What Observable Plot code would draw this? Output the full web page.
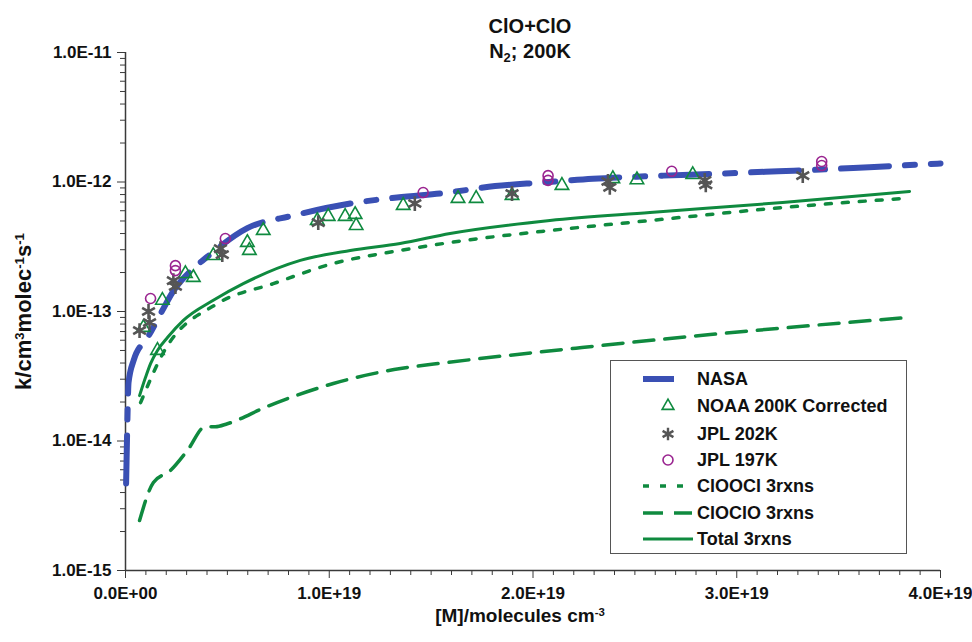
<!DOCTYPE html>
<html><head><meta charset="utf-8">
<script src="https://cdn.jsdelivr.net/npm/d3@7"></script>
<script src="https://cdn.jsdelivr.net/npm/@observablehq/plot@0.6"></script>
<style>
body{margin:0;background:#fff;}
#wrap{position:relative;width:972px;height:642px;font-family:"Liberation Sans",Arial,sans-serif;font-weight:bold;color:#111;}
#chart{position:absolute;left:0;top:0;}
#chart svg text{font-size:17px !important;font-weight:bold !important;font-family:"Liberation Sans",Arial,sans-serif !important;fill:#111;}
.sup{font-size:60%;position:relative;top:-0.55em;}
.sub{font-size:65%;position:relative;top:0.3em;}
#title{position:absolute;left:330px;width:400px;top:14px;text-align:center;font-size:20px;line-height:25px;}
#xlabel{position:absolute;left:320px;width:400px;top:604px;text-align:center;font-size:19px;line-height:24px;}
#ylabel{position:absolute;left:25px;top:310px;width:300px;margin-left:-150px;margin-top:-12px;text-align:center;font-size:22px;line-height:24px;transform:rotate(-90deg);}
#legend{position:absolute;left:610px;top:360px;width:297px;height:194px;border:1.5px solid #555;background:#fff;box-sizing:border-box;}
#legend svg{position:absolute;left:0;top:0;}
#legend .t{position:absolute;left:86px;font-size:18px;line-height:22px;white-space:nowrap;}
</style></head><body>
<div id="wrap">
  <div id="chart"></div>
  <div id="title">ClO+ClO<br>N<span class="sub">2</span>; 200K</div>
  <div id="xlabel">[M]/molecules cm<span class="sup">-3</span></div>
  <div id="ylabel">k/cm<span class="sup">3</span>molec<span class="sup">-1</span>s<span class="sup">-1</span></div>
  <div id="legend"></div>
</div>
<script>
// ---- data (M in units of 1e19 molecules cm^-3, k in cm^3 molec^-1 s^-1) ----
const nasaM = [0.003,0.008,0.015,0.04,0.108,0.123,0.181,0.23,0.333,0.402,0.598,0.824,1.103,1.333,1.583,1.814,2.049,2.294,2.51,2.64,2.92,3.14,3.28,3.51,3.65,3.88,4.0];
const nasaK = [4.7e-15,1.16e-14,2.83e-14,4.19e-14,6.29e-14,6.88e-14,1.02e-13,1.40e-13,2.15e-13,2.65e-13,4.4e-13,5.51e-13,6.82e-13,7.59e-13,8.29e-13,9.3e-13,9.91e-13,1.06e-12,1.10e-12,1.12e-12,1.16e-12,1.20e-12,1.22e-12,1.27e-12,1.30e-12,1.36e-12,1.39e-12];

const totalM = [0.069,0.098,0.123,0.157,0.206,0.284,0.431,0.578,0.858,1.103,1.348,1.593,2.083,2.574,3.225,3.848];
const totalK = [2.24e-14,3.09e-14,3.96e-14,5.0e-14,6.29e-14,8.53e-14,1.22e-13,1.64e-13,2.48e-13,2.96e-13,3.35e-13,4.0e-13,5.04e-13,5.81e-13,6.95e-13,8.45e-13];

const clooclM = [0.074,0.186,0.451,0.725,1.02,1.348,1.593,2.083,2.574,3.225,3.814];
const clooclK = [1.98e-14,4.82e-14,1.15e-13,1.64e-13,2.35e-13,2.96e-13,3.41e-13,4.22e-13,5.04e-13,6.35e-13,7.46e-13];

const clocloM = [0.069,0.137,0.221,0.304,0.392,0.441,0.50,0.696,1.02,1.35,1.58,2.24,2.87,3.37,3.84];
const clocloK = [2.43e-15,4.79e-15,5.92e-15,8.45e-15,1.29e-14,1.29e-14,1.36e-14,1.85e-14,2.78e-14,3.63e-14,4.04e-14,5.27e-14,6.64e-14,7.8e-14,9.0e-14];

const noaaM = [0.088,0.157,0.181,0.294,0.333,0.431,0.598,0.608,0.676,0.941,0.995,1.078,1.127,1.132,1.363,1.632,1.721,1.897,2.142,2.392,2.510,2.784];
const noaaK = [7.52e-14,5.0e-14,1.22e-13,1.96e-13,1.83e-13,2.70e-13,3.41e-13,2.96e-13,4.22e-13,5.04e-13,5.42e-13,5.42e-13,5.61e-13,4.61e-13,6.59e-13,7.46e-13,7.46e-13,7.87e-13,9.40e-13,1.06e-12,1.04e-12,1.14e-12];

const jpl202M = [0.069,0.113,0.118,0.235,0.245,0.466,0.475,0.946,1.42,1.897,2.368,2.377,2.843,2.848,3.324];
const jpl202K = [7.13e-14,1.0e-13,8.22e-14,1.73e-13,1.56e-13,3.06e-13,2.75e-13,4.86e-13,6.82e-13,8.15e-13,1.01e-12,9.08e-13,1.03e-12,9.5e-13,1.12e-12];

const jpl197M = [0.123,0.245,0.245,0.490,1.461,2.074,2.074,2.681,3.417,3.417];
const jpl197K = [1.26e-13,2.26e-13,2.07e-13,3.66e-13,8.29e-13,1.12e-12,1.03e-12,1.21e-12,1.44e-12,1.34e-12];

const xTicks = [0,1,2,3,4];
const xTickLabels = ["0.0E+00","1.0E+19","2.0E+19","3.0E+19","4.0E+19"];
const yTicks = [1e-15,1e-14,1e-13,1e-12,1e-11];
const yTickLabels = ["1.0E-15","1.0E-14","1.0E-13","1.0E-12","1.0E-11"];

const seriesNames = ["NASA","NOAA 200K Corrected","JPL 202K","JPL 197K","ClOOCl 3rxns","ClOClO 3rxns","Total 3rxns"];

// ---- build ----
const E19 = 1e19;
const pts = (ms, ks) => ms.map((m, i) => ({m: m * E19, k: ks[i]}));
const nasa = pts(nasaM, nasaK), total = pts(totalM, totalK), ooc = pts(clooclM, clooclK), oco = pts(clocloM, clocloK);
const noaa = pts(noaaM, noaaK), j202 = pts(jpl202M, jpl202K), j197 = pts(jpl197M, jpl197K);

const xMinor = d3.range(0, 41).filter(i => i % 10 !== 0).map(i => i * 1e18);
const yMinor = [];
for (let e = -15; e < -11; e++) for (let m = 2; m <= 9; m++) yMinor.push(m * Math.pow(10, e));

const GREEN = "#0f8a3f", BLUE = "#3a50b4", GRAY = "#555555", PURPLE = "#9a2490", AX = "#3a3a3a";
const FONT = "'Liberation Sans', Arial, sans-serif";

const chart = Plot.plot({
  width: 972, height: 642,
  marginLeft: 125, marginRight: 32, marginTop: 52, marginBottom: 72,
  style: {fontFamily: FONT, fontSize: "17px", fontWeight: "bold", color: "#111", background: "#fff", overflow: "visible"},
  x: {domain: [0, 4 * E19], label: null},
  y: {type: "log", domain: [1e-15, 1e-11], label: null},
  marks: [
    Plot.axisY(yMinor, {tickSize: 5, tickFormat: () => "", stroke: AX, label: null}),
    Plot.axisY(yTicks, {tickSize: 8, tickPadding: 6, tickFormat: d => yTickLabels[yTicks.indexOf(d)], stroke: AX, fill: "#111", label: null}),
    Plot.axisX(xMinor, {tickSize: 5, tickFormat: () => "", stroke: AX, label: null}),
    Plot.axisX(xTicks.map(v => v * E19), {tickSize: 8, tickPadding: 8, tickFormat: d => xTickLabels[xTicks.indexOf(Math.round(d / E19))], stroke: AX, fill: "#111", label: null}),
    Plot.ruleX([0], {stroke: AX, strokeWidth: 1.5}),
    Plot.ruleY([1e-15], {stroke: AX, strokeWidth: 1.5}),
    Plot.line(oco, {x: "m", y: "k", stroke: GREEN, strokeWidth: 3.5, strokeDasharray: "20,11", curve: "monotone-x"}),
    Plot.line(ooc, {x: "m", y: "k", stroke: GREEN, strokeWidth: 3.5, strokeDasharray: "6,11", curve: "monotone-x"}),
    Plot.line(total, {x: "m", y: "k", stroke: GREEN, strokeWidth: 3, curve: "monotone-x"}),
    Plot.line(nasa, {x: "m", y: "k", stroke: BLUE, strokeWidth: 6, strokeDasharray: "48,16,10,16", curve: "monotone-x"}),
    Plot.dot(noaa, {x: "m", y: "k", symbol: "triangle", r: 5, stroke: GREEN, strokeWidth: 1.6, fill: "none"}),
    Plot.dot(j202, {x: "m", y: "k", symbol: "asterisk", r: 7, stroke: GRAY, strokeWidth: 2.6}),
    Plot.dot(j197, {x: "m", y: "k", symbol: "circle", r: 5, stroke: PURPLE, strokeWidth: 1.6, fill: "none"})
  ]
});
document.getElementById("chart").appendChild(chart);

// ---- legend ----
const rowsY = [18, 45, 73, 99, 125, 152, 178];
const leg = d3.select("#legend");
const svg = leg.append("svg").attr("width", 297).attr("height", 194);
const sym = (type, size) => d3.symbol().type(type).size(size)();
svg.append("line").attr("x1", 32).attr("x2", 63).attr("y1", rowsY[0]).attr("y2", rowsY[0]).attr("stroke", BLUE).attr("stroke-width", 6);
svg.append("path").attr("d", sym(d3.symbolTriangle, 60)).attr("transform", `translate(57,${rowsY[1]})`).attr("fill", "none").attr("stroke", GREEN).attr("stroke-width", 1.6);
svg.append("path").attr("d", sym(d3.symbolAsterisk, 110)).attr("transform", `translate(57,${rowsY[2]})`).attr("fill", "none").attr("stroke", GRAY).attr("stroke-width", 2.4);
svg.append("circle").attr("cx", 57).attr("cy", rowsY[3]).attr("r", 5).attr("fill", "none").attr("stroke", PURPLE).attr("stroke-width", 1.6);
svg.append("line").attr("x1", 32).attr("x2", 74).attr("y1", rowsY[4]).attr("y2", rowsY[4]).attr("stroke", GREEN).attr("stroke-width", 3.5).attr("stroke-dasharray", "6,11");
svg.append("line").attr("x1", 32).attr("x2", 81).attr("y1", rowsY[5]).attr("y2", rowsY[5]).attr("stroke", GREEN).attr("stroke-width", 3.5).attr("stroke-dasharray", "20,11");
svg.append("line").attr("x1", 32).attr("x2", 82).attr("y1", rowsY[6]).attr("y2", rowsY[6]).attr("stroke", GREEN).attr("stroke-width", 3);
seriesNames.forEach((n, i) => {
  leg.append("div").attr("class", "t").style("top", (rowsY[i] - 11) + "px").text(n);
});
</script>
</body></html>
